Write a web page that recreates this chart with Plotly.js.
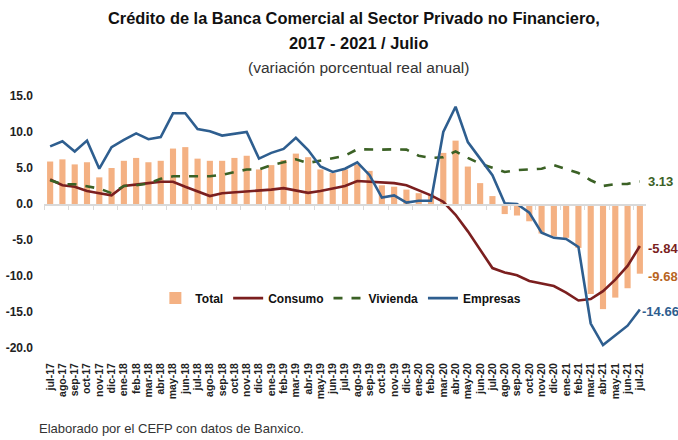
<!DOCTYPE html>
<html>
<head>
<meta charset="utf-8">
<script src="https://cdn.plot.ly/plotly-3.0.1.min.js"></script>
<style>html,body{margin:0;padding:0;background:#fff;}#chart{width:678px;height:440px;}</style>
</head>
<body>
<div id="chart"></div>
<script>
const months = ["jul-17","ago-17","sep-17","oct-17","nov-17","dic-17","ene-18","feb-18","mar-18","abr-18","may-18","jun-18","jul-18","ago-18","sep-18","oct-18","nov-18","dic-18","ene-19","feb-19","mar-19","abr-19","may-19","jun-19","jul-19","ago-19","sep-19","oct-19","nov-19","dic-19","ene-20","feb-20","mar-20","abr-20","may-20","jun-20","jul-20","ago-20","sep-20","oct-20","nov-20","dic-20","ene-21","feb-21","mar-21","abr-21","may-21","jun-21","jul-21"];

const total = [5.9,6.2,5.5,5.8,3.7,5.0,6.0,6.4,5.8,6.0,7.7,7.9,6.3,6.0,6.0,6.4,6.7,4.8,5.4,6.1,7.0,6.5,4.8,4.3,4.8,5.5,4.6,2.6,2.4,2.0,1.5,1.4,7.1,8.8,5.2,2.9,1.1,-1.4,-1.6,-2.4,-4.1,-4.5,-4.7,-6.1,-12.5,-14.6,-13.0,-11.7,-9.68];

const consumo = [3.4,2.6,2.4,1.8,1.5,1.2,2.5,2.75,2.9,3.1,3.1,2.4,1.7,1.1,1.5,1.6,1.7,1.8,2.0,2.2,1.9,1.55,1.8,2.2,2.5,3.2,3.1,3.1,2.9,2.6,1.9,1.2,0.3,-1.5,-3.8,-6.3,-8.9,-9.5,-9.9,-10.7,-11.0,-11.4,-12.3,-13.4,-13.2,-12.1,-10.5,-8.6,-5.84];

const vivienda = [3.3,2.75,2.75,2.5,2.15,1.5,2.5,2.6,2.85,3.5,3.85,3.85,3.85,3.85,4.05,4.45,4.8,4.8,5.4,5.8,6.2,5.7,6.05,6.4,6.7,7.6,7.55,7.55,7.6,7.55,6.7,6.4,6.5,7.3,6.4,5.6,5.05,4.45,4.7,4.8,4.9,5.4,4.9,4.3,3.3,2.5,2.75,2.8,3.13];

const empresas = [8.0,8.7,7.3,8.8,4.9,7.9,8.9,9.8,9.0,9.3,12.6,12.6,10.4,10.1,9.5,9.7,10.0,6.3,7.1,7.65,9.2,7.5,5.2,4.45,4.9,5.8,4.0,0.9,1.2,0.2,0.45,0.45,10.0,13.5,8.6,6.3,4.0,0.1,0.0,-1.2,-4.0,-4.7,-4.85,-5.96,-16.6,-19.6,-18.2,-16.9,-14.66];

const yTicks = [-20,-15,-10,-5,0,5,10,15];

const cTotal = "#F4B183", cCons = "#7B1F1F", cViv = "#3B6125", cEmp = "#2E5E8F";
const FONT = "Liberation Sans, Arial, sans-serif";

const traces = [
  {type:"bar", name:"Total", x:months, y:total, marker:{color:cTotal}, width:0.5, hoverinfo:"skip"},
  {type:"scatter", mode:"lines", name:"Consumo", x:months, y:consumo, line:{color:cCons, width:2.6}, hoverinfo:"skip"},
  {type:"scatter", mode:"lines", name:"Vivienda", x:months, y:vivienda, line:{color:cViv, width:2.6, dash:"dash"}, hoverinfo:"skip"},
  {type:"scatter", mode:"lines", name:"Empresas", x:months, y:empresas, line:{color:cEmp, width:2.6}, hoverinfo:"skip"},
  {type:"scatter", mode:"markers", x:months, y:months.map(()=>null), xaxis:"x2", yaxis:"y", showlegend:false, hoverinfo:"skip"}
];

const last = months[months.length-1];
function endLabel(text, y, color, xshift, yshift){
  return {x:last, y:y, xref:"x", yref:"y", text:text, showarrow:false, xanchor:"left", yanchor:"middle",
          xshift:xshift, yshift:yshift, font:{family:FONT, size:13, color:color, weight:"bold"}};
}

const layout = {
  width:678, height:440,
  paper_bgcolor:"#fff", plot_bgcolor:"#fff",
  margin:{l:44, r:32, t:96, b:92},
  showlegend:true,
  legend:{orientation:"h", x:0.185, xanchor:"left", y:0.198, yanchor:"middle", bgcolor:"rgba(0,0,0,0)",
          font:{family:FONT, size:12, color:"#111", weight:"bold"}},
  title:{text:"Crédito de la Banca Comercial al Sector Privado no Financiero,", x:0.522, xanchor:"center",
         y:1-18/440, yanchor:"middle", font:{family:FONT, size:16.4, color:"#111", weight:"bold"}},
  xaxis:{type:"category", categoryarray:months, range:[-0.5,48.5], showline:false, ticks:"", showgrid:false,
         zeroline:false, tickangle:-90, ticklabelstandoff:12, tickmode:"array", tickvals:months, ticktext:months,
         tickfont:{family:FONT, size:10.5, color:"#222", weight:"bold"}},
  xaxis2:{type:"category", categoryarray:months, range:[-0.5,48.5], overlaying:"x", anchor:"free",
          position:20/35, side:"bottom", showticklabels:false, ticks:"outside", tickson:"boundaries",
          ticklen:4, tickcolor:"#D9D9D9", tickwidth:1, showline:true, linecolor:"#D9D9D9", linewidth:1.5,
          showgrid:false, zeroline:false},
  yaxis:{range:[-20,15], tickvals:yTicks, ticktext:yTicks.map(v=>v.toFixed(1)), showgrid:false, zeroline:false,
         showline:false, ticks:"", ticklabelstandoff:10,
         tickfont:{family:FONT, size:12, color:"#222", weight:"bold"}},
  annotations:[
    {xref:"paper", yref:"paper", x:0.522, y:(348-43)/252, text:"2017 - 2021 / Julio", showarrow:false,
     xanchor:"center", yanchor:"middle", font:{family:FONT, size:16.4, color:"#111", weight:"bold"}},
    {xref:"paper", yref:"paper", x:0.522, y:(348-67)/252, text:"(variación porcentual real anual)", showarrow:false,
     xanchor:"center", yanchor:"middle", font:{family:FONT, size:15.5, color:"#333"}},
    {xref:"paper", yref:"paper", x:-0.012, y:(348-428)/252, text:"Elaborado por el CEFP con datos de Banxico.", showarrow:false,
     xanchor:"left", yanchor:"middle", font:{family:FONT, size:13, color:"#333"}},
    endLabel("3.13", vivienda[48], cViv, 6, 0),
    endLabel("-5.84", consumo[48], cCons, 6, -2),
    endLabel("-9.68", total[48], "#B8651E", 6, -3),
    endLabel("-14.66", empresas[48], cEmp, 0, -2)
  ]
};

Plotly.newPlot("chart", traces, layout, {displayModeBar:false, staticPlot:true});
</script>
</body>
</html>
